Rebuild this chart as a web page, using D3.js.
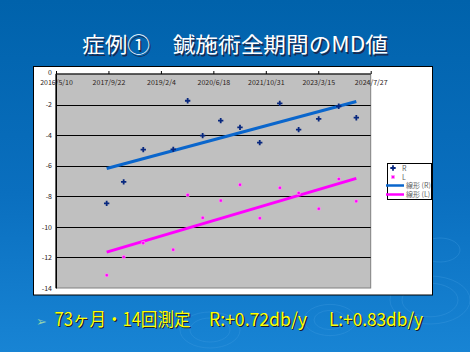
<!DOCTYPE html>
<html>
<head>
<meta charset="utf-8">
<script src="https://cdn.jsdelivr.net/npm/d3@7"></script>
<style>
  html, body { margin: 0; padding: 0; background: #0064ae; }
  svg { display: block; }
  .tick text { font-family: "Noto Sans CJK JP", "DejaVu Sans", sans-serif; }
</style>
</head>
<body>
<svg id="chart"></svg>
<script>
const dates = ["2017/9/5", "2018/2/14", "2018/8/20", "2019/6/2", "2019/10/17", "2020/3/8", "2020/8/27",
    "2021/2/27", "2021/9/3", "2022/3/13", "2022/9/9", "2023/3/19", "2023/9/26", "2024/3/12"];
// MD values, right eye and left eye
const rValues = [-8.46, -7.06, -4.95, -4.93, -1.75, -4.03, -3.05, -3.49, -4.49, -1.92, -3.64, -2.94, -2.11, -2.86];
const lValues = [-13.17, -11.97, -11.07, -11.49, -7.91, -9.40, -8.28, -7.24, -9.44, -7.44, -7.78, -8.81, -6.87, -8.33];
// axis ticks
const xTicks = ["2016/5/10", "2017/9/22", "2019/2/4", "2020/6/18", "2021/10/31", "2023/3/15", "2024/7/27"];
const yTicks = [0, -2, -4, -6, -8, -10, -12, -14];
const legendLabels = ["R", "L", "線形 (R)", "線形 (L)"];

const parse = d3.timeParse("%Y/%m/%d");
const fmt = d3.timeFormat("%Y/%-m/%-d");

const W = 470, H = 352;
const plot = {left: 56, right: 370.7, top: 74, bottom: 288};

const svg = d3.select("#chart").attr("width", W).attr("height", H);

// background
const defs = svg.append("defs");
const bg = defs.append("linearGradient").attr("id", "bg").attr("x1", 0).attr("y1", 0).attr("x2", 0).attr("y2", 1);
bg.append("stop").attr("offset", "0%").attr("stop-color", "#0062ab");
bg.append("stop").attr("offset", "55%").attr("stop-color", "#0a6fbf");
bg.append("stop").attr("offset", "100%").attr("stop-color", "#1884d4");
svg.append("rect").attr("width", W).attr("height", H).attr("fill", "url(#bg)");

// faint ripples at the bottom
const ripples = svg.append("g").attr("fill", "none").attr("stroke", "#3f9be0").attr("stroke-opacity", 0.35);
[[210, 330, 30], [210, 330, 20], [330, 320, 26], [330, 320, 16], [430, 300, 40], [430, 300, 28], [440, 250, 20]].forEach(c => {
    ripples.append("ellipse").attr("cx", c[0]).attr("cy", c[1]).attr("rx", c[2]).attr("ry", c[2] * 0.6);
});

// title
const titleText = "症例①　鍼施術全期間のMD値";
[["#1a2a50", 1.5], ["#ffffff", 0]].forEach(([c, off]) => {
    svg.append("text")
        .attr("x", 82 + off).attr("y", 52 + off)
        .attr("textLength", 306).attr("lengthAdjust", "spacingAndGlyphs")
        .attr("font-family", "'Noto Sans CJK JP', sans-serif")
        .attr("font-size", 21)
        .attr("fill", c)
        .text(titleText);
});

// white chart panel
svg.append("rect")
    .attr("x", 33.5).attr("y", 66.5).attr("width", 399).attr("height", 228.5)
    .attr("fill", "#ffffff").attr("stroke", "#000").attr("stroke-width", 1);

// scales
const x = d3.scaleTime()
    .domain([parse(xTicks[0]), parse(xTicks[xTicks.length - 1])])
    .range([plot.left, plot.right]);
const y = d3.scaleLinear().domain([0, -14]).range([plot.top, plot.bottom]);

// plot area
svg.append("rect")
    .attr("x", plot.left).attr("y", plot.top)
    .attr("width", plot.right - plot.left).attr("height", plot.bottom - plot.top)
    .attr("fill", "#c0c0c0").attr("stroke", "#808080").attr("stroke-width", 1);

// gridlines
svg.append("g")
    .selectAll("line")
    .data(yTicks.filter(v => v !== 0 && v !== -14))
    .join("line")
    .attr("x1", plot.left).attr("x2", plot.right)
    .attr("y1", d => Math.round(y(d)) + 0.5).attr("y2", d => Math.round(y(d)) + 0.5)
    .attr("stroke", "#000").attr("stroke-width", 1);

// y axis
const yAxisG = svg.append("g").attr("transform", `translate(${plot.left},0)`)
    .call(d3.axisLeft(y).tickValues(yTicks).tickSize(0).tickPadding(4).tickFormat(d => d === 0 ? "0" : "-" + Math.abs(d)));
yAxisG.select(".domain").attr("stroke", "#000");
yAxisG.selectAll("text").attr("font-size", 7).attr("fill", "#2a2018")
    .attr("dy", d => d === 0 ? "0.1em" : "0.32em");

// x axis on top with labels inside
const xAxisG = svg.append("g").attr("transform", `translate(0,${plot.top})`)
    .call(d3.axisTop(x).tickValues(xTicks.map(parse)).tickSize(3).tickFormat(fmt));
xAxisG.select(".domain").attr("stroke", "#000").attr("d", `M${plot.left},0H${plot.right}`);
xAxisG.selectAll("text").attr("y", 11).attr("font-size", 7).attr("fill", "#2a2018");
xAxisG.selectAll(".tick line").attr("stroke", "#000");

// left axis line on top of everything in the plot
svg.append("line")
    .attr("x1", plot.left).attr("x2", plot.left).attr("y1", plot.top).attr("y2", plot.bottom)
    .attr("stroke", "#000");

// linear trend (least squares on dates)
function trend(values) {
    const xs = dates.map(d => +parse(d));
    const mx = d3.mean(xs), my = d3.mean(values);
    const b = d3.sum(xs, (v, i) => (v - mx) * (values[i] - my)) / d3.sum(xs, v => (v - mx) * (v - mx));
    const a = my - b * mx;
    return [xs[0], xs[xs.length - 1]].map(t => ({t: new Date(t), v: a + b * t}));
}
const line = d3.line().x(d => x(d.t)).y(d => y(d.v));

svg.append("path").datum(trend(rValues))
    .attr("d", line).attr("stroke", "#0a66cc").attr("stroke-width", 3).attr("fill", "none");
svg.append("path").datum(trend(lValues))
    .attr("d", line).attr("stroke", "#ff00ff").attr("stroke-width", 3).attr("fill", "none");

// R markers
const cross = d3.symbol().type(d3.symbolCross).size(16);
svg.append("g").selectAll("path")
    .data(rValues)
    .join("path")
    .attr("d", cross)
    .attr("transform", (d, i) => `translate(${x(parse(dates[i]))},${y(d)})`)
    .attr("fill", "#08287f");

// L markers
svg.append("g").selectAll("rect")
    .data(lValues)
    .join("rect")
    .attr("x", (d, i) => x(parse(dates[i])) - 1.5)
    .attr("y", d => y(d) - 1.5)
    .attr("width", 3).attr("height", 3)
    .attr("fill", "#ff00ff").attr("stroke", "#ff99ee").attr("stroke-width", 0.6);

// legend
defs.append("clipPath").attr("id", "legclip")
    .append("rect").attr("x", 370).attr("y", 160).attr("width", 61.5).attr("height", 42);
svg.append("rect")
    .attr("x", 387.5).attr("y", 163.5).attr("width", 44).attr("height", 36)
    .attr("fill", "#fff").attr("stroke", "#000");
const leg = svg.append("g").attr("clip-path", "url(#legclip)");
const legY = [168, 177, 185.5, 194.5];
leg.append("path").attr("d", cross).attr("transform", `translate(393,${legY[0]})`).attr("fill", "#08287f");
leg.append("rect").attr("x", 391.5).attr("y", legY[1] - 1.5).attr("width", 3).attr("height", 3)
    .attr("fill", "#ff00ff").attr("stroke", "#ff99ee").attr("stroke-width", 0.6);
leg.append("line").attr("x1", 386).attr("x2", 404).attr("y1", legY[2]).attr("y2", legY[2])
    .attr("stroke", "#0a66cc").attr("stroke-width", 2.5);
leg.append("line").attr("x1", 386).attr("x2", 404).attr("y1", legY[3]).attr("y2", legY[3])
    .attr("stroke", "#ff00ff").attr("stroke-width", 2.5);
leg.selectAll("text")
    .data(legendLabels)
    .join("text")
    .attr("x", (d, i) => i < 2 ? 402 : 406)
    .attr("y", (d, i) => legY[i] + 2.5)
    .attr("font-family", "'Noto Sans CJK JP', sans-serif")
    .attr("font-size", 7)
    .attr("fill", "#606060")
    .text(d => d);

// footer line
const footer = [
    {x: 54.5, w: 136, text: "73ヶ月・14回測定"},
    {x: 209, w: 98, text: "R:+0.72db/y"},
    {x: 329, w: 94, text: "L:+0.83db/y"}
];
svg.append("text")
    .attr("x", 36).attr("y", 326)
    .attr("font-family", "'DejaVu Sans', sans-serif")
    .attr("font-size", 13)
    .attr("fill", "#8fd0b0")
    .text("➢");
const ft = svg.append("g")
    .attr("font-family", "'Noto Sans CJK JP', sans-serif")
    .attr("font-size", 18);
[["#1a2030", 1.2], ["#ffff00", 0]].forEach(([c, off]) => {
    ft.append("g").selectAll("text")
        .data(footer)
        .join("text")
        .attr("x", d => d.x + off).attr("y", 326 + off)
        .attr("textLength", d => d.w).attr("lengthAdjust", "spacingAndGlyphs")
        .attr("fill", c)
        .text(d => d.text);
});
</script>
</body>
</html>
